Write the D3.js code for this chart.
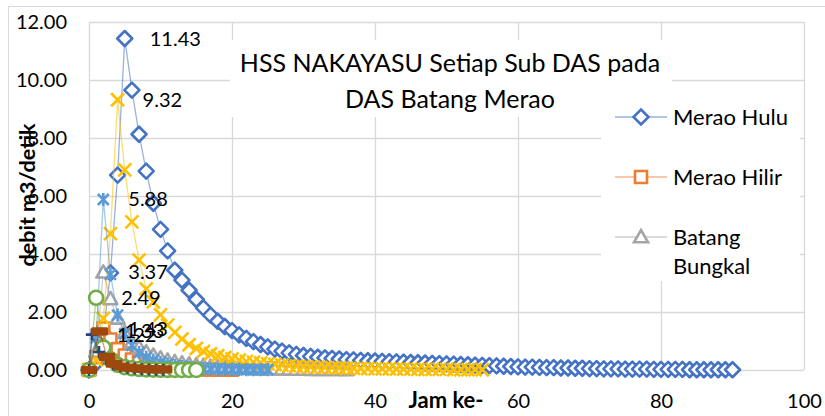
<!DOCTYPE html>
<html>
<head>
<meta charset="utf-8">
<script src="https://cdn.jsdelivr.net/npm/d3@7"></script>
<style>
body { margin: 0; background: #fff; }
text { font-family: Lato, "Open Sans", sans-serif; fill: #000; }
</style>
</head>
<body>
<script>
// Debit (m3/detik) per jam
const meraoHulu = [0, 0.24, 1.27, 3.35, 6.72, 11.43, 9.65, 8.13, 6.86, 5.75, 4.85, 4.11, 3.44, 3.10, 2.75, 2.43,
    2.14, 1.89, 1.68, 1.50, 1.36, 1.21, 1.09, 0.98, 0.88, 0.80, 0.72, 0.65, 0.59, 0.54, 0.50,
    0.47, 0.44, 0.42, 0.40, 0.38, 0.36, 0.35, 0.33, 0.32, 0.31, 0.30, 0.29, 0.28, 0.27, 0.26,
    0.25, 0.24, 0.23, 0.22, 0.21, 0.20, 0.19, 0.18, 0.17, 0.16, 0.15, 0.14, 0.13, 0.12, 0.11,
    0.10, 0.10, 0.09, 0.08, 0.08, 0.07, 0.07, 0.06, 0.06, 0.05, 0.05, 0.04, 0.04, 0.04, 0.03,
    0.03, 0.03, 0.03, 0.02, 0.02, 0.02, 0.02, 0.02, 0.01, 0.01, 0.01, 0.01, 0.01, 0.01, 0.01];
const meraoHilir = [0, 0.45, 1.43, 1.05, 0.72, 0.50, 0.36, 0.27, 0.20, 0.15, 0.11, 0.08, 0.06, 0.05, 0.04,
    0.03, 0.02, 0.02, 0.01, 0.01, 0.01];
const batangBungkal = [0, 0.64, 3.37, 2.45, 1.78, 1.29, 0.96, 0.78, 0.62, 0.50, 0.41, 0.33, 0.28, 0.24, 0.20,
    0.17, 0.15, 0.12, 0.11, 0.09, 0.08, 0.07, 0.06, 0.05, 0.04, 0.035, 0.03, 0.026, 0.022, 0.019,
    0.016, 0.013, 0.011, 0.01, 0.008, 0.007, 0.006];
const seriKuning = [0, 0.34, 1.78, 4.70, 9.32, 6.90, 5.11, 3.79, 2.80, 2.35, 1.90, 1.55, 1.30, 1.07, 0.87,
    0.74, 0.64, 0.56, 0.49, 0.43, 0.38, 0.34, 0.30, 0.27, 0.24, 0.21, 0.19, 0.17, 0.15, 0.13,
    0.12, 0.11, 0.10, 0.09, 0.08, 0.07, 0.06, 0.06, 0.05, 0.05, 0.04, 0.04, 0.04, 0.03, 0.03,
    0.03, 0.02, 0.02, 0.02, 0.02, 0.02, 0.01, 0.01, 0.01, 0.01, 0.01];
const seriBiruMuda = [0, 1.11, 5.88, 3.30, 1.89, 1.25, 0.85, 0.60, 0.44, 0.34, 0.26, 0.20, 0.15, 0.12, 0.09,
    0.07, 0.05, 0.04, 0.03, 0.03, 0.02, 0.02, 0.01, 0.01, 0.01, 0.01];
const seriHijau = [0, 2.49, 0.78, 0.37, 0.18, 0.10, 0.06, 0.035, 0.02, 0.012, 0.007, 0.004, 0.003, 0.002, 0.001, 0.001];
const jamBiruTua = [0, 0.4, 1.4, 2.4, 3.4, 4.4, 5.4, 6.4, 7.4, 8.4, 9.4, 10.4];
const seriBiruTua = [0, 1.22, 0.62, 0.38, 0.20, 0.12, 0.08, 0.05, 0.03, 0.02, 0.01, 0.01];
const jamCoklat = [0, 1.5, 2.5, 3.5, 4.5, 5.5, 6.5, 7.5, 8.5, 9.5, 10.5];
const seriCoklat = [0, 1.33, 0.45, 0.22, 0.12, 0.08, 0.06, 0.04, 0.03, 0.02, 0.02];

const xTicks = [0, 20, 40, 60, 80, 100];
const yTicks = [0, 2, 4, 6, 8, 10, 12];
const legendNames = ['Merao Hulu', 'Merao Hilir', 'Batang Bungkal'];

// Canvas setup
const canvasWidth = 825;
const canvasHeight = 416;

const svg = d3.select('body')
    .append('svg')
    .attr('width', canvasWidth)
    .attr('height', canvasHeight);

svg.append('rect')
    .attr('x', 8.5).attr('y', 6.5)
    .attr('width', 900).attr('height', 500)
    .attr('fill', '#fff')
    .attr('stroke', '#d9d9d9');

let plot = {left: 89, right: 804, top: 22, bottom: 370};

let xScale = d3.scaleLinear().domain([0, 100]).range([plot.left, plot.right]);
let yScale = d3.scaleLinear().domain([0, 12]).range([plot.bottom, plot.top]);

// gridlines
let gridX = svg.append('g')
    .attr('transform', `translate(0,${plot.bottom})`)
    .call(d3.axisBottom(xScale).tickValues(xTicks).tickSize(-(plot.bottom - plot.top)).tickFormat(''));
let gridY = svg.append('g')
    .attr('transform', `translate(${plot.left},0)`)
    .call(d3.axisLeft(yScale).tickValues(yTicks).tickSize(-(plot.right - plot.left)).tickFormat(''));
[gridX, gridY].forEach(g => {
    g.select('.domain').remove();
    g.selectAll('line').attr('stroke', '#d9d9d9').attr('stroke-width', 1.3);
});

// tick labels
let axisX = svg.append('g')
    .attr('transform', `translate(0,${plot.bottom})`)
    .call(d3.axisBottom(xScale).tickValues(xTicks).tickSize(0).tickFormat(d3.format('d')));
axisX.selectAll('text').attr('y', 38).attr('dy', 0);
let axisY = svg.append('g')
    .attr('transform', `translate(${plot.left},0)`)
    .call(d3.axisLeft(yScale).tickValues(yTicks).tickSize(0).tickPadding(22).tickFormat(d3.format('.2f')));
[axisX, axisY].forEach(g => {
    g.select('.domain').remove();
    g.selectAll('text').style('font-family', 'Lato').style('font-size', '20px').attr('fill', '#000');
});

// axis titles
svg.append('text')
    .attr('transform', 'translate(35,195) rotate(-90)')
    .attr('text-anchor', 'middle')
    .style('font-weight', 'bold').style('font-size', '21.5px')
    .text('debit m3/detik');
svg.append('text')
    .attr('x', 446).attr('y', 408)
    .attr('text-anchor', 'middle')
    .style('font-weight', 'bold').style('font-size', '22px')
    .text('Jam ke-');

// marker shapes
function markerPath(type, s) {
    switch (type) {
        case 'diamond': return `M0,${-s}L${s},0L0,${s}L${-s},0Z`;
        case 'square': return `M${-s},${-s}H${s}V${s}H${-s}Z`;
        case 'triangle': return `M0,${-s}L${s},${s * 0.75}L${-s},${s * 0.75}Z`;
        case 'x': return `M${-s},${-s}L${s},${s}M${-s},${s}L${s},${-s}`;
        case 'star': return `M${-s},${-s}L${s},${s}M${-s},${s}L${s},${-s}M0,${-s * 1.2}V${s * 1.2}`;
        case 'circle': return d3.arc()({innerRadius: 0, outerRadius: s, startAngle: 0, endAngle: 2 * Math.PI});
        case 'plus': return `M${-s},0H${s}M0,${-s}V${s}`;
        case 'dash': return `M${-s},${-s * 0.4}H${s}V${s * 0.4}H${-s}Z`;
    }
}

const hours = n => d3.range(n);

let series = [
    {x: hours(meraoHulu.length), y: meraoHulu, color: '#4472C4', marker: 'diamond', size: 7.5, fill: '#fff'},
    {x: hours(meraoHilir.length), y: meraoHilir, color: '#ED7D31', marker: 'square', size: 6, fill: '#fff'},
    {x: hours(batangBungkal.length), y: batangBungkal, color: '#A5A5A5', marker: 'triangle', size: 7, fill: '#fff'},
    {x: hours(seriKuning.length), y: seriKuning, color: '#FFC000', marker: 'x', size: 6.5, fill: 'none'},
    {x: hours(seriBiruMuda.length), y: seriBiruMuda, color: '#5B9BD5', marker: 'star', size: 5.5, fill: 'none'},
    {x: hours(seriHijau.length), y: seriHijau, color: '#70AD47', marker: 'circle', size: 7, fill: '#fff'},
    {x: jamBiruTua, y: seriBiruTua, color: '#264478', marker: 'plus', size: 6, fill: 'none'},
    {x: jamCoklat, y: seriCoklat, color: '#9E480E', marker: 'dash', size: 7, fill: '#9E480E'}
];

let lineFn = d3.line()
    .x(d => xScale(d[0]))
    .y(d => yScale(d[1]));

let seriesGroup = svg.append('g');
series.forEach(s => {
    let pts = s.x.map((t, i) => [t, s.y[i]]);
    let g = seriesGroup.append('g');
    g.append('path')
        .attr('d', lineFn(pts))
        .attr('fill', 'none')
        .attr('stroke', s.color)
        .attr('stroke-opacity', 0.55)
        .attr('stroke-width', 1.3);
    g.selectAll('path.mk').data(pts).enter().append('path')
        .classed('mk', true)
        .attr('transform', d => `translate(${xScale(d[0])},${yScale(d[1])})`)
        .attr('d', markerPath(s.marker, s.size))
        .attr('fill', s.fill)
        .attr('stroke', s.color)
        .attr('stroke-width', 2.6)
        .attr('stroke-linejoin', 'round');
});

// data labels at each peak
let labelGroup = svg.append('g');
series.forEach(s => {
    let i = d3.maxIndex(s.y);
    labelGroup.append('text')
        .attr('x', xScale(s.x[i]) + 25)
        .attr('y', yScale(s.y[i]))
        .attr('dy', '0.35em')
        .style('font-size', '20px')
        .text(d3.format('.2f')(s.y[i]));
});

// title box
svg.append('rect')
    .attr('x', 230).attr('y', 40).attr('width', 442).attr('height', 77)
    .attr('fill', '#fff');
let title = svg.append('text')
    .attr('text-anchor', 'middle')
    .style('font-size', '25px');
title.append('tspan').attr('x', 450).attr('y', 72).text('HSS NAKAYASU Setiap Sub DAS pada');
title.append('tspan').attr('x', 450).attr('y', 108).text('DAS Batang Merao');

// legend
svg.append('rect')
    .attr('x', 601).attr('y', 88).attr('width', 199).attr('height', 193)
    .attr('fill', '#fff');
let legendY = [117, 177, 237];
legendNames.forEach((name, i) => {
    let s = series[i];
    let g = svg.append('g').attr('transform', `translate(0,${legendY[i]})`);
    g.append('line')
        .attr('x1', 615).attr('x2', 667)
        .attr('stroke', s.color).attr('stroke-opacity', 0.55).attr('stroke-width', 1.3);
    g.append('path')
        .attr('transform', 'translate(641,0)')
        .attr('d', markerPath(s.marker, s.size))
        .attr('fill', s.fill).attr('stroke', s.color).attr('stroke-width', 2.6);
    let words = name === 'Batang Bungkal' ? ['Batang', 'Bungkal'] : [name];
    let t = g.append('text').style('font-size', '22px');
    words.forEach((w, j) => {
        t.append('tspan').attr('x', 673).attr('y', 8 + j * 28.5).text(w);
    });
});
</script>
</body>
</html>
